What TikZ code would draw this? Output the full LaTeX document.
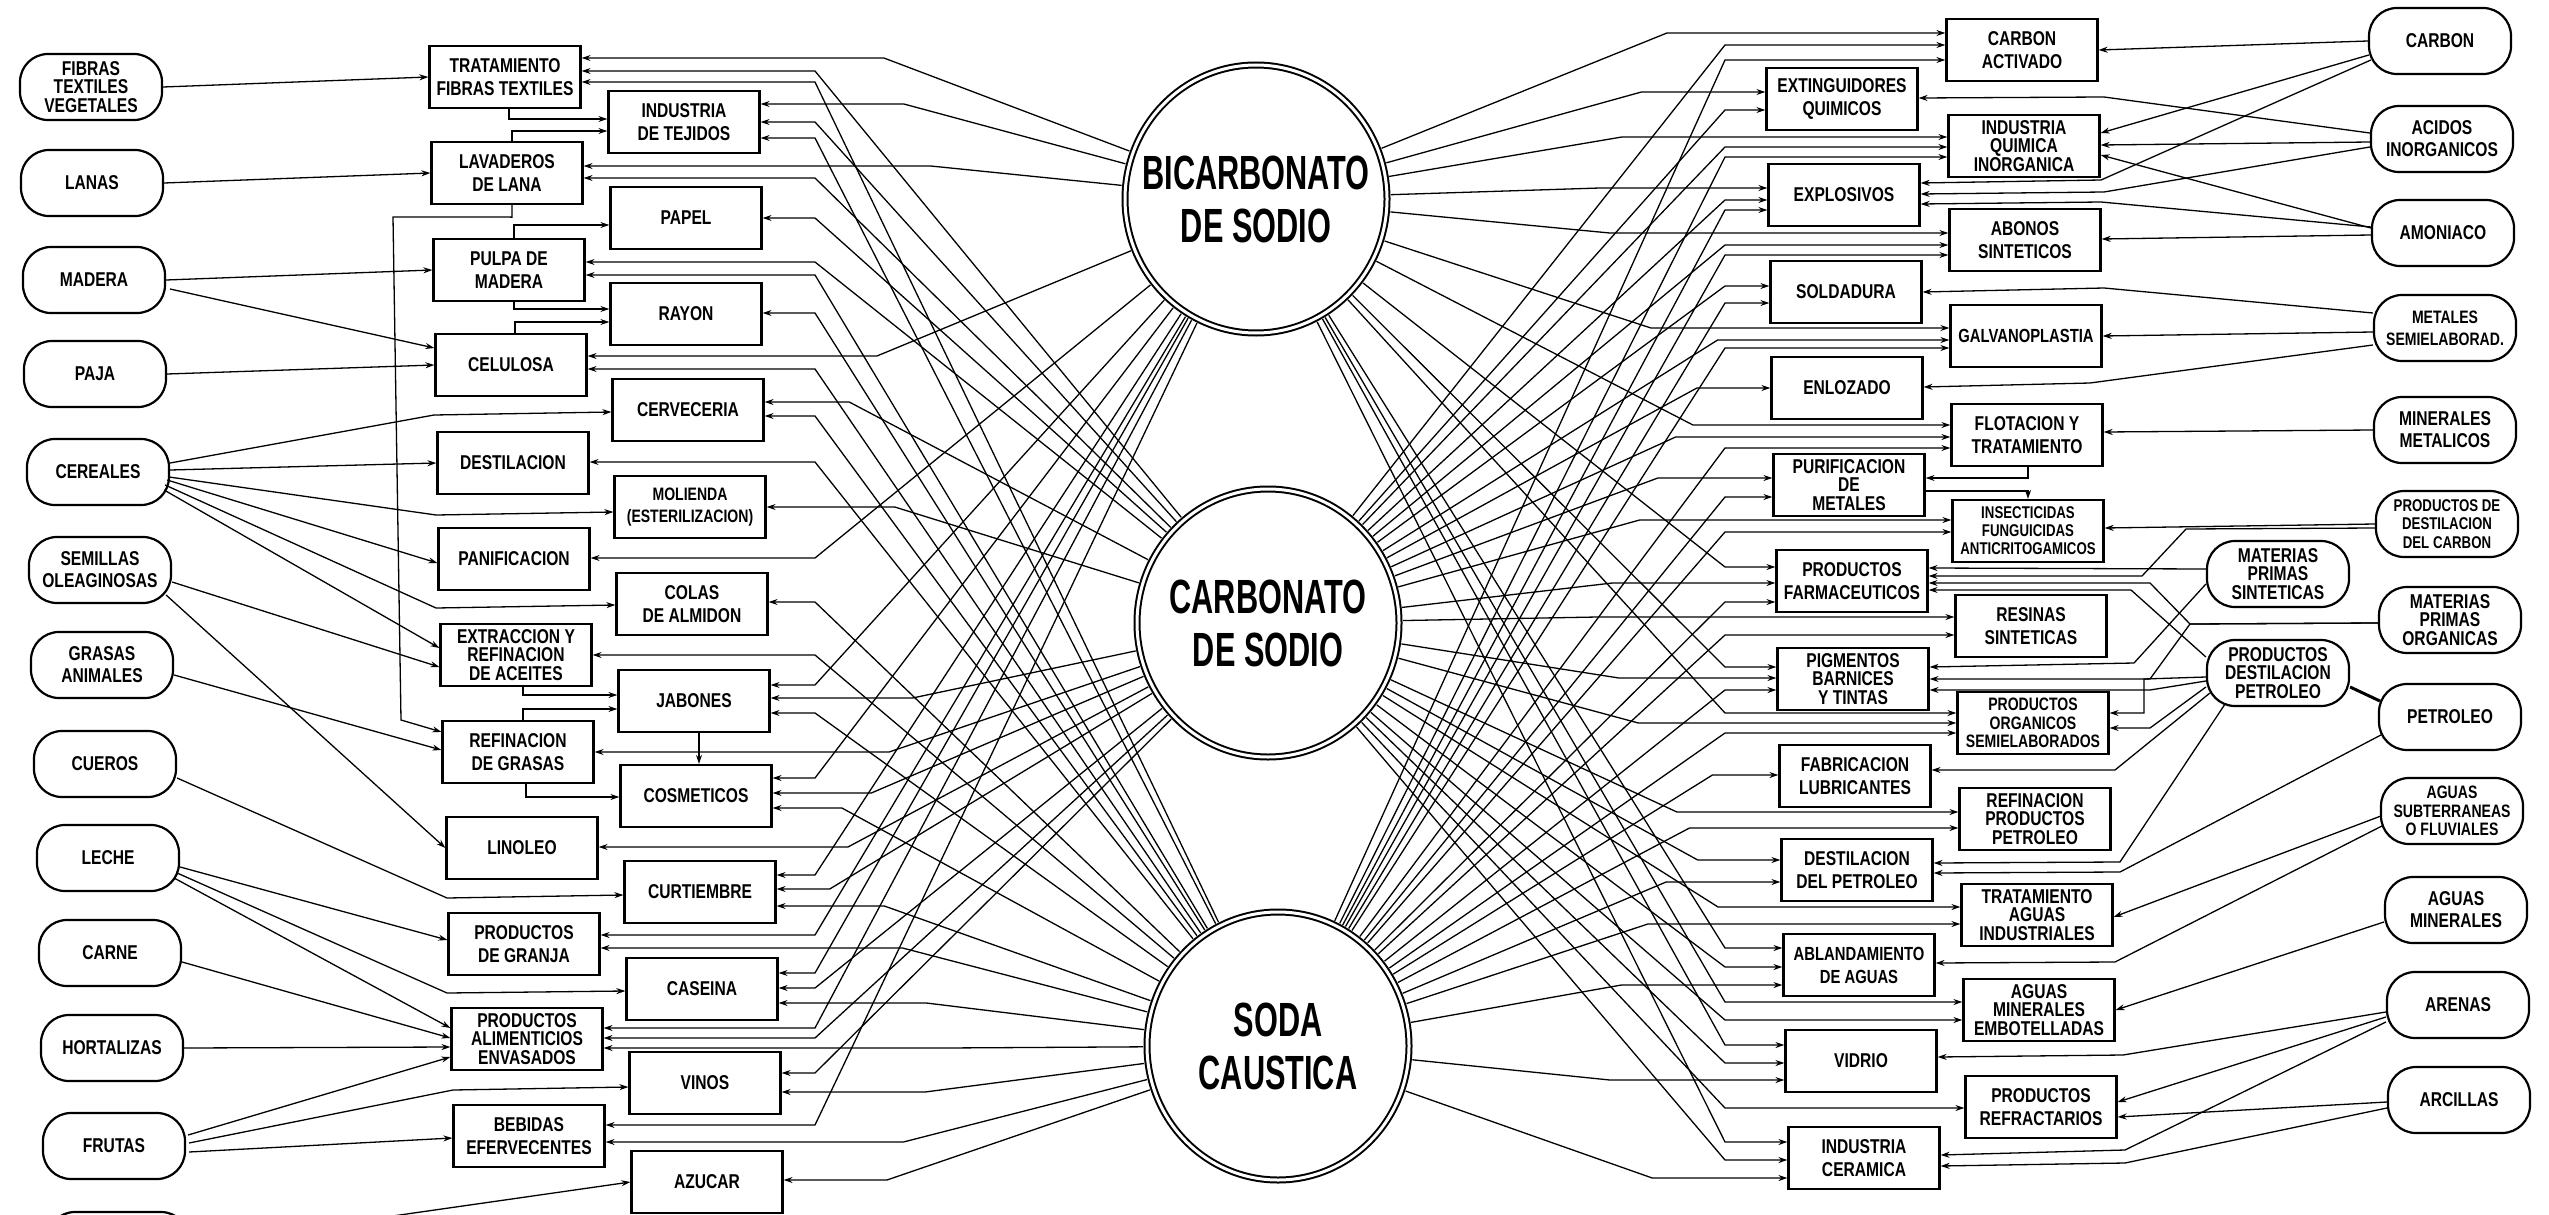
\documentclass[tikz,border=0pt]{standalone}
\usepackage{fontspec}
\setmainfont{Liberation Sans}[FakeStretch=0.78]
\usepackage{graphicx}
\usetikzlibrary{shapes.geometric,arrows.meta,calc}
\def\cyBI{199}\def\cyCA{623}\def\cySO{1046}
\newcommand\Lk[3]{%
  \pgfmathsetmacro\bxx{815+130*max(0,1-abs(#2-\csname cy#3\endcsname)/300)}%
  \coordinate (t) at (0,#2);%
  \draw[arr] (#3) -- (\bxx,#2) -- (#1.east |- t);}
\newcommand\Rk[3]{%
  \pgfmathsetmacro\bxx{1725-130*max(0,1-abs(#2-\csname cy#3\endcsname)/300)}%
  \coordinate (t) at (0,#2);%
  \draw[arr] (#3) -- (\bxx,#2) -- (#1.west |- t);}
\newcommand\cxt[1]{\scalebox{0.82}[1]{#1}}
\begin{document}
\begin{tikzpicture}[x=1pt,y=-1pt,
  ln/.style={line width=1.3pt},
  arr/.style={ln,-{Stealth[length=9pt,width=6pt]}},
  bx/.style={draw,fill=white,line width=2.2pt,minimum width=151pt,minimum height=62pt,inner sep=1pt,align=center,font=\fontsize{20}{23}\selectfont\bfseries},
  ov/.style={draw,fill=white,line width=2.2pt,rounded corners=28pt,minimum width=142pt,minimum height=66pt,inner sep=1pt,align=center,font=\fontsize{20}{22}\selectfont\bfseries},
  tl/.style={font=\fontsize{20}{18.5}\selectfont\bfseries},
  sm/.style={font=\fontsize{18}{22}\selectfont\bfseries},
  smt/.style={font=\fontsize{18}{18.5}\selectfont\bfseries},
  circ/.style={ellipse,draw,double,double distance=3pt,line width=2pt,minimum width=262pt,minimum height=268pt,outer sep=4pt},
  ctext/.style={align=center,font=\fontsize{48}{53}\selectfont\bfseries}]
\fill[white] (0,0) rectangle (2549,1215);
\useasboundingbox (0,0) rectangle (2549,1215);

% central circles
\node[circ] (BI) at (1256,199) {};
\node[ctext] at (BI) {\cxt{BICARBONATO}\\\cxt{DE SODIO}};
\node[circ] (CA) at (1268,623) {};
\node[ctext] at (CA) {\cxt{CARBONATO}\\\cxt{DE SODIO}};
\node[circ] (SO) at (1278,1046) {};
\node[ctext] at (SO) {\cxt{SODA}\\\cxt{CAUSTICA}};

% left raw materials
\node[ov,tl] (o1) at (91,87) {FIBRAS\\TEXTILES\\VEGETALES};
\node[ov] (o2) at (92,183) {LANAS};
\node[ov] (o3) at (94,280) {MADERA};
\node[ov] (o4) at (95,374) {PAJA};
\node[ov] (o5) at (98,472) {CEREALES};
\node[ov] (o6) at (100,570) {SEMILLAS\\OLEAGINOSAS};
\node[ov] (o7) at (102,665) {GRASAS\\ANIMALES};
\node[ov] (o8) at (105,764) {CUEROS};
\node[ov] (o9) at (108,858) {LECHE};
\node[ov] (o10) at (110,953) {CARNE};
\node[ov] (o11) at (112,1048) {HORTALIZAS};
\node[ov] (o12) at (114,1146) {FRUTAS};
\node[ov] (o13) at (118,1245) {};

% left boxes
\node[bx] (tft) at (505,77) {TRATAMIENTO\\FIBRAS TEXTILES};
\node[bx] (tej) at (684,122) {INDUSTRIA\\DE TEJIDOS};
\node[bx] (lav) at (507,173) {LAVADEROS\\DE LANA};
\node[bx] (pap) at (686,218) {PAPEL};
\node[bx] (pul) at (509,270) {PULPA DE\\MADERA};
\node[bx] (ray) at (686,314) {RAYON};
\node[bx] (cel) at (511,365) {CELULOSA};
\node[bx] (cer) at (688,410) {CERVECERIA};
\node[bx] (des) at (513,463) {DESTILACION};
\node[bx,sm] (mol) at (690,507) {MOLIENDA\\(ESTERILIZACION)};
\node[bx] (pan) at (514,559) {PANIFICACION};
\node[bx] (col) at (692,604) {COLAS\\DE ALMIDON};
\node[bx,tl] (ext) at (516,655) {EXTRACCION Y\\REFINACION\\DE ACEITES};
\node[bx] (jab) at (694,701) {JABONES};
\node[bx] (ref) at (518,752) {REFINACION\\DE GRASAS};
\node[bx] (cos) at (696,796) {COSMETICOS};
\node[bx] (lin) at (522,848) {LINOLEO};
\node[bx] (cur) at (700,892) {CURTIEMBRE};
\node[bx] (gra) at (524,944) {PRODUCTOS\\DE GRANJA};
\node[bx] (cas) at (702,989) {CASEINA};
\node[bx,tl] (ali) at (527,1039) {PRODUCTOS\\ALIMENTICIOS\\ENVASADOS};
\node[bx] (vin) at (705,1083) {VINOS};
\node[bx] (beb) at (529,1136) {BEBIDAS\\EFERVECENTES};
\node[bx] (azu) at (707,1182) {AZUCAR};

% right boxes
\node[bx] (cac) at (2022,50) {CARBON\\ACTIVADO};
\node[bx] (exq) at (1842,99) {EXTINGUIDORES\\QUIMICOS};
\node[bx,tl] (iqi) at (2024,146) {INDUSTRIA\\QUIMICA\\INORGANICA};
\node[bx] (exp) at (1844,195) {EXPLOSIVOS};
\node[bx] (abo) at (2025,240) {ABONOS\\SINTETICOS};
\node[bx] (sol) at (1846,292) {SOLDADURA};
\node[bx,font=\fontsize{19}{19}\selectfont\bfseries] (gal) at (2026,336) {GALVANOPLASTIA};
\node[bx] (enl) at (1847,388) {ENLOZADO};
\node[bx] (flo) at (2027,435) {FLOTACION Y\\TRATAMIENTO};
\node[bx,tl] (pur) at (1849,485) {PURIFICACION\\DE\\METALES};
\node[bx,font=\fontsize{17}{18}\selectfont\bfseries] (ins) at (2028,531) {INSECTICIDAS\\FUNGUICIDAS\\ANTICRITOGAMICOS};
\node[bx] (far) at (1852,581) {PRODUCTOS\\FARMACEUTICOS};
\node[bx] (res) at (2031,626) {RESINAS\\SINTETICAS};
\node[bx,tl] (pig) at (1853,679) {PIGMENTOS\\BARNICES\\Y TINTAS};
\node[bx,smt] (por) at (2033,723) {PRODUCTOS\\ORGANICOS\\SEMIELABORADOS};
\node[bx] (fab) at (1855,776) {FABRICACION\\LUBRICANTES};
\node[bx,tl] (rpp) at (2035,819) {REFINACION\\PRODUCTOS\\PETROLEO};
\node[bx] (dpe) at (1857,870) {DESTILACION\\DEL PETROLEO};
\node[bx,tl] (tai) at (2037,915) {TRATAMIENTO\\AGUAS\\INDUSTRIALES};
\node[bx,font=\fontsize{19}{23}\selectfont\bfseries] (abl) at (1859,965) {ABLANDAMIENTO\\DE AGUAS};
\node[bx,tl] (ame) at (2039,1010) {AGUAS\\MINERALES\\EMBOTELLADAS};
\node[bx] (vid) at (1861,1061) {VIDRIO};
\node[bx] (pre) at (2041,1107) {PRODUCTOS\\REFRACTARIOS};
\node[bx] (crm) at (1864,1158) {INDUSTRIA\\CERAMICA};

% right raw materials
\node[ov] (rCar) at (2440,41) {CARBON};
\node[ov] (rAci) at (2442,139) {ACIDOS\\INORGANICOS};
\node[ov] (rAmo) at (2443,233) {AMONIACO};
\node[ov,sm] (rMet) at (2445,328) {METALES\\SEMIELABORAD.};
\node[ov] (rMin) at (2445,430) {MINERALES\\METALICOS};
\node[ov,font=\fontsize{17}{18.5}\selectfont\bfseries] (rPdc) at (2447,524) {PRODUCTOS DE\\DESTILACION\\DEL CARBON};
\node[ov,tl] (rMps) at (2278,574) {MATERIAS\\PRIMAS\\SINTETICAS};
\node[ov,tl] (rMpo) at (2450,620) {MATERIAS\\PRIMAS\\ORGANICAS};
\node[ov,tl] (rPdp) at (2278,673) {PRODUCTOS\\DESTILACION\\PETROLEO};
\node[ov] (rPet) at (2450,717) {PETROLEO};
\node[ov,smt] (rAgs) at (2452,811) {AGUAS\\SUBTERRANEAS\\O FLUVIALES};
\node[ov] (rAgm) at (2456,910) {AGUAS\\MINERALES};
\node[ov] (rAre) at (2458,1005) {ARENAS};
\node[ov] (rArc) at (2459,1100) {ARCILLAS};

% ---------- left raw material connectors
\draw[arr] (o1.east) -- (tft.west);
\draw[arr] ($(tft.south)+(4,0)$) |- ($(tej.west)+(0,-3)$);
\draw[arr] ($(lav.north)+(5,0)$) |- ($(tej.west)+(0,9)$);
\draw[arr] (o2.east) -- (lav.west);
\draw[arr] ($(lav.south)+(5,0)$) -- ++(0,12) -- (393,217) -- (401,720) -- ($(ref.north west)+(0,12)$);
\draw[arr] (o3.east) -- (pul.west);
\draw[arr] ($(o3.east)+(4,9)$) -- ($(cel.west)+(0,-17)$);
\draw[arr] ($(pul.north)+(5,0)$) |- ($(pap.west)+(0,7)$);
\draw[arr] ($(pul.south)+(5,0)$) |- ($(ray.west)+(0,-5)$);
\draw[arr] ($(cel.north)+(4,0)$) |- ($(ray.west)+(0,8)$);
\draw[arr] (o4.east) -- (cel.west);
\draw[arr] ($(o5.east)+(0,-9)$) -- (434,415) -- ($(cer.west)+(0,2)$);
\draw[arr] ($(o5.east)+(0,-2)$) -- (des.west);
\draw[arr] ($(o5.east)+(-1,5)$) -- (436,515) -- ($(mol.west)+(0,5)$);
\draw[arr] ($(o5.east)+(-3,8)$) -- ($(pan.west)+(0,4)$);
\draw[arr] ($(o5.east)+(-5,13)$) -- (436,608) -- ($(col.west)+(0,1)$);
\draw[arr] ($(o5.east)+(-6,18)$) -- ($(ext.west)+(0,-7)$);
\draw[arr] ($(o6.east)+(0,12)$) -- ($(ext.west)+(0,12)$);
\draw[arr] ($(o6.east)+(-6,25)$) -- (lin.west);
\draw[arr] ($(o7.east)+(0,10)$) -- ($(ref.west)+(0,-2)$);
\draw[arr] ($(ext.south)+(7,0)$) |- ($(jab.west)+(0,-6)$);
\draw[arr] ($(ref.north)+(5,0)$) |- ($(jab.west)+(0,8)$);
\draw[arr] ($(ref.south)+(8,0)$) |- ($(cos.west)+(0,1)$);
\draw[arr] ($(jab.south)+(5,0)$) -- ($(cos.north)+(3,0)$);
\draw[arr] ($(o8.east)+(0,14)$) -- (447,898) -- ($(cur.west)+(0,3)$);
\draw[arr] ($(o9.east)+(0,9)$) -- ($(gra.west)+(0,-4)$);
\draw[arr] ($(o9.east)+(-3,15)$) -- (447,993) -- ($(cas.west)+(0,2)$);
\draw[arr] ($(o9.east)+(-6,20)$) -- ($(ali.west)+(0,-11)$);
\draw[arr] ($(o10.east)+(0,9)$) -- ($(ali.west)+(0,-1)$);
\draw[arr] (o11.east) -- ($(ali.west)+(0,8)$);
\draw[arr] ($(o12.east)+(2,-11)$) -- ($(ali.west)+(0,18)$);
\draw[arr] ($(o12.east)+(3,-3)$) -- (453,1090) -- ($(vin.west)+(0,4)$);
\draw[arr] ($(o12.east)+(3,6)$) -- ($(beb.west)+(0,2)$);
\draw[arr] (o13.east) -- (azu.west);

% ---------- left box -> circle connectors
\Lk{tft}{58}{BI}\Lk{tft}{71}{CA}\Lk{tft}{82}{SO}
\Lk{tej}{104}{BI}\Lk{tej}{122}{CA}\Lk{tej}{138}{SO}
\Lk{lav}{166}{BI}\Lk{lav}{178}{CA}
\Lk{pap}{218}{CA}
\Lk{pul}{262}{CA}\Lk{pul}{275}{SO}
\Lk{ray}{313}{SO}
\Lk{cel}{356}{BI}\Lk{cel}{369}{SO}
\Lk{cer}{402}{CA}\Lk{cer}{416}{SO}
\Lk{des}{462}{SO}
\Lk{mol}{507}{CA}
\Lk{pan}{558}{BI}
\Lk{col}{602}{SO}
\Lk{ext}{655}{SO}
\Lk{jab}{685}{BI}\Lk{jab}{698}{CA}\Lk{jab}{713}{SO}
\Lk{ref}{752}{CA}
\Lk{cos}{778}{BI}\Lk{cos}{793}{CA}\Lk{cos}{808}{SO}
\Lk{lin}{847}{CA}
\Lk{cur}{875}{BI}\Lk{cur}{889}{CA}\Lk{cur}{906}{SO}
\Lk{gra}{935}{BI}\Lk{gra}{948}{SO}
\Lk{cas}{973}{BI}\Lk{cas}{988}{CA}\Lk{cas}{1003}{SO}
\Lk{ali}{1028}{BI}\Lk{ali}{1038}{CA}\Lk{ali}{1048}{SO}
\Lk{vin}{1073}{CA}\Lk{vin}{1092}{SO}
\Lk{beb}{1125}{BI}\Lk{beb}{1142}{SO}
\Lk{azu}{1180}{SO}

% ---------- circle -> right box connectors
\Rk{cac}{33}{BI}\Rk{cac}{45}{CA}\Rk{cac}{60}{SO}
\Rk{exq}{92}{BI}\Rk{exq}{110}{CA}
\Rk{iqi}{137}{BI}\Rk{iqi}{147}{CA}\Rk{iqi}{157}{SO}
\Rk{exp}{188}{BI}\Rk{exp}{200}{CA}\Rk{exp}{210}{SO}
\Rk{abo}{233}{BI}\Rk{abo}{245}{CA}\Rk{abo}{255}{SO}
\Rk{sol}{286}{CA}\Rk{sol}{303}{SO}
\Rk{gal}{328}{BI}\Rk{gal}{340}{CA}\Rk{gal}{348}{SO}
\Rk{enl}{388}{CA}
\Rk{flo}{425}{BI}\Rk{flo}{437}{CA}\Rk{flo}{448}{SO}
\Rk{pur}{478}{CA}\Rk{pur}{497}{SO}
\Rk{ins}{520}{CA}\Rk{ins}{532}{SO}
\Rk{far}{567}{BI}\Rk{far}{583}{CA}\Rk{far}{602}{SO}
\Rk{res}{617}{CA}\Rk{res}{635}{SO}
\Rk{pig}{667}{BI}\Rk{pig}{678}{CA}\Rk{pig}{690}{SO}
\Rk{por}{713}{BI}\Rk{por}{723}{CA}\Rk{por}{733}{SO}
\Rk{fab}{775}{SO}
\Rk{rpp}{812}{CA}\Rk{rpp}{828}{SO}
\Rk{dpe}{860}{CA}\Rk{dpe}{882}{SO}
\Rk{tai}{907}{CA}\Rk{tai}{924}{SO}
\Rk{abl}{948}{BI}\Rk{abl}{967}{CA}\Rk{abl}{985}{SO}
\Rk{ame}{1002}{BI}\Rk{ame}{1020}{CA}
\Rk{vid}{1045}{BI}\Rk{vid}{1063}{CA}\Rk{vid}{1080}{SO}
\Rk{pre}{1108}{CA}
\Rk{crm}{1142}{BI}\Rk{crm}{1160}{CA}\Rk{crm}{1178}{SO}

% ---------- right raw material connectors
\draw[arr] (rCar.west) -- (cac.east);
\draw[arr] ($(rCar.west)+(1,14)$) -- ($(iqi.east)+(0,-13)$);
\draw[arr] ($(rCar.west)+(3,19)$) -- (2101,180) -- ($(exp.east)+(0,-12)$);
\draw[arr] ($(rAci.west)+(0,-6)$) -- (2104,97) -- ($(exq.east)+(0,-1)$);
\draw[arr] ($(rAci.west)+(0,3)$) -- ($(iqi.east)+(0,-1)$);
\draw[arr] ($(rAci.west)+(0,8)$) -- (2104,192) -- ($(exp.east)+(0,-1)$);
\draw[arr] ($(rAmo.west)+(0,-5)$) -- ($(iqi.east)+(0,9)$);
\draw[arr] ($(rAmo.west)+(0,-6)$) -- (2101,202) -- ($(exp.east)+(0,9)$);
\draw[arr] ($(rAmo.west)+(0,2)$) -- ($(abo.east)+(0,-1)$);
\draw[arr] ($(rMet.west)+(0,-15)$) -- (2104,288) -- (sol.east);
\draw[arr] ($(rMet.west)+(0,4)$) -- (gal.east);
\draw[arr] ($(rMet.west)+(0,17)$) -- (2090,383) -- ($(enl.east)+(0,-1)$);
\draw[arr] (rMin.west) -- ($(flo.east)+(0,-3)$);
\draw[arr] ($(flo.south)+(1,0)$) |- ($(pur.east)+(0,-7)$);
\draw[arr] ($(pur.east)+(0,6)$) -| (ins.north);
\draw[arr] (rPdc.west) -- ($(ins.east)+(0,-3)$);
\draw[arr] ($(rPdc.west)+(0,4)$) -- (2186,529) -- (2142,576) -- ($(far.east)+(0,-5)$);
\draw[arr] ($(rMps.west)+(0,-5)$) -- ($(far.east)+(0,-13)$);
\draw[arr] ($(rMps.west)+(0,10)$) -- (2134,663) -- ($(pig.east)+(0,-12)$);
\draw[arr] ($(rMpo.west)+(0,3)$) -- (2190,624) -- (2150,583) -- ($(far.east)+(0,2)$);
\draw[arr] ($(rMpo.west)+(0,3)$) -- (2190,624) -- (2150,679) -- (pig.east);
\draw[arr] ($(rPdp.west)+(0,-16)$) -- (2131,590) -- ($(far.east)+(0,9)$);
\draw[arr] ($(rPdp.west)+(0,4)$) -- (2144,679) |- ($(por.east)+(0,-10)$);
\draw[arr] ($(rPdp.west)+(0,8)$) -- (2150,690) -- ($(pig.east)+(0,11)$);
\draw[arr] ($(rPdp.west)+(0,14)$) -- (2150,728) -- ($(por.east)+(0,5)$);
\draw[arr] ($(rPdp.west)+(4,20)$) -- (2115,770) -- ($(fab.east)+(0,-6)$);
\draw[arr] ($(rPdp.south)+(-53,-3)$) -- (2120,862) -- ($(dpe.east)+(0,-7)$);
\draw[line width=3pt] ($(rPdp.east)+(0,14)$) -- ($(rPet.west)+(2,-16)$);
\draw[arr] ($(rPet.west)+(3,18)$) -- (2120,872) -- ($(dpe.east)+(0,3)$);
\draw[arr] ($(rAgs.west)+(1,5)$) -- ($(tai.east)+(0,2)$);
\draw[arr] ($(rAgs.west)+(2,15)$) -- (2115,962) -- ($(abl.east)+(0,-2)$);
\draw[arr] ($(rAgm.west)+(0,12)$) -- (ame.east);
\draw[arr] ($(rAre.west)+(0,7)$) -- (2123,1055) -- ($(vid.east)+(0,-4)$);
\draw[arr] ($(rAre.west)+(0,12)$) -- ($(pre.east)+(0,-5)$);
\draw[arr] ($(rAre.west)+(0,17)$) -- (2125,1150) -- ($(crm.east)+(0,-3)$);
\draw[arr] ($(rArc.west)+(0,2)$) -- ($(pre.east)+(0,10)$);
\draw[arr] ($(rArc.west)+(0,8)$) -- (2125,1163) -- ($(crm.east)+(0,8)$);
\end{tikzpicture}
\end{document}
